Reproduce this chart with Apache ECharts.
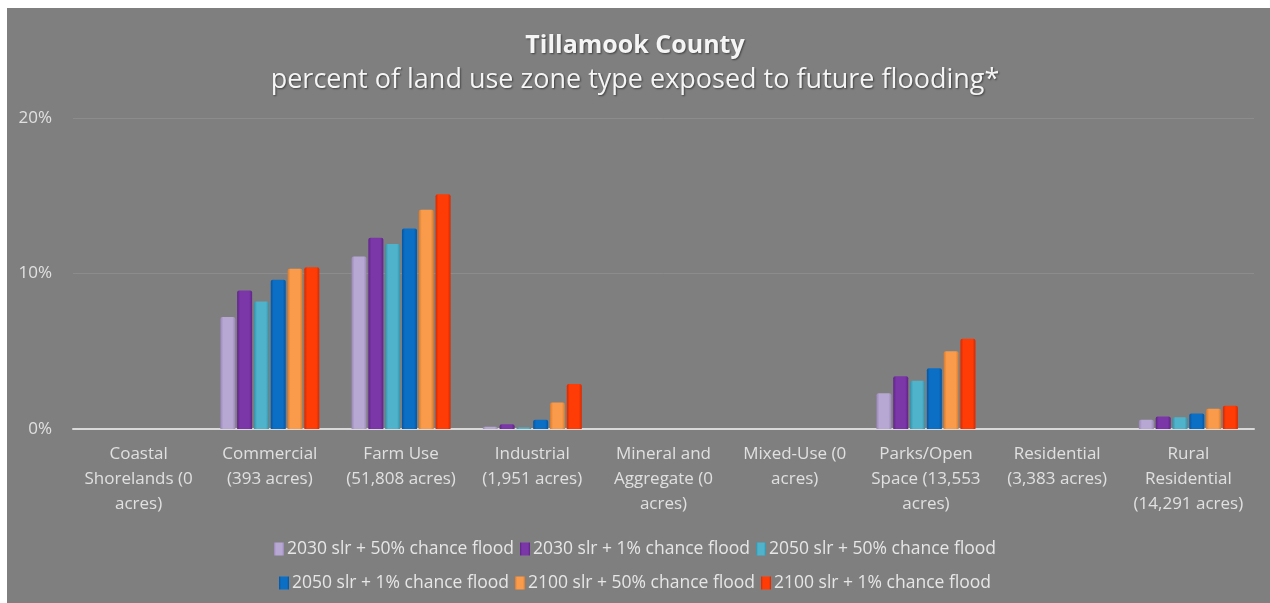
<!DOCTYPE html>
<html>
<head>
<meta charset="utf-8">
<script src="https://cdn.jsdelivr.net/npm/echarts@6/dist/echarts.min.js"></script>
<style>
html,body{margin:0;padding:0;background:#ffffff;}
#chart{width:1270px;height:603px;}
</style>
</head>
<body>
<div id="chart"></div>
<script>
const categories = [
  'Coastal\nShorelands (0\nacres)',
  'Commercial\n(393 acres)',
  'Farm Use\n(51,808 acres)',
  'Industrial\n(1,951 acres)',
  'Mineral and\nAggregate (0\nacres)',
  'Mixed-Use (0\nacres)',
  'Parks/Open\nSpace (13,553\nacres)',
  'Residential\n(3,383 acres)',
  'Rural\nResidential\n(14,291 acres)'
];
const seriesNames = [
  '2030 slr + 50% chance flood',
  '2030 slr + 1% chance flood',
  '2050 slr + 50% chance flood',
  '2050 slr + 1% chance flood',
  '2100 slr + 50% chance flood',
  '2100 slr + 1% chance flood'
];
const s2030_50 = [0, 7.2, 11.1, 0.15, 0, 0, 2.3, 0, 0.6];
const s2030_1  = [0, 8.9, 12.3, 0.3, 0, 0, 3.4, 0, 0.8];
const s2050_50 = [0, 8.2, 11.9, 0.1, 0, 0, 3.1, 0, 0.75];
const s2050_1  = [0, 9.6, 12.9, 0.6, 0, 0, 3.9, 0, 1.0];
const s2100_50 = [0, 10.3, 14.1, 1.7, 0, 0, 5.0, 0, 1.3];
const s2100_1  = [0, 10.4, 15.1, 2.9, 0, 0, 5.8, 0, 1.5];
const yTicks = [0, 10, 20];

const seriesData = [s2030_50, s2030_1, s2050_50, s2050_1, s2100_50, s2100_1];
const colors = ['#b7a7d3', '#7b36a8', '#4fb3cb', '#0b6fc6', '#f99b4a', '#ff3c05'];
const darks  = ['#9a88b8', '#5e2488', '#3590a8', '#0655a0', '#d87a2e', '#d82800'];

const chart = echarts.init(document.getElementById('chart'), null, {renderer: 'canvas'});
const FONT = '"Open Sans", Lato, sans-serif';

const series = seriesData.map((d, i) => ({
  name: seriesNames[i],
  type: 'bar',
  data: d,
  barWidth: 15,
  barGap: '12%',
  itemStyle: {
    color: new echarts.graphic.LinearGradient(0, 0, 1, 0, [
      {offset: 0, color: darks[i]},
      {offset: 0.2, color: colors[i]},
      {offset: 0.8, color: colors[i]},
      {offset: 1, color: darks[i]}
    ]),
    borderRadius: [2, 2, 0, 0]
  }
}));

const legendCommon = {
  icon: 'rect',
  itemWidth: 10,
  itemHeight: 13,
  itemGap: 6,
  textStyle: {color: '#e6e6e6', fontSize: 17.5, fontFamily: FONT, padding: [0, 0, 0, -2]},
  left: 'center'
};

chart.setOption({
  backgroundColor: '#ffffff',
  color: colors,
  animation: false,
  graphic: [{
    type: 'rect',
    z: -10,
    shape: {x: 7, y: 8, width: 1263, height: 595},
    style: {fill: '#7f7f7f'}
  }],
  title: {
    text: 'Tillamook County',
    subtext: 'percent of land use zone type exposed to future flooding*',
    left: 'center',
    top: 28,
    itemGap: 9,
    textStyle: {
      color: '#f5f5f5', fontSize: 25, fontWeight: 'bold', fontFamily: FONT,
      textShadowColor: 'rgba(0,0,0,0.5)', textShadowBlur: 2, textShadowOffsetX: 1, textShadowOffsetY: 1
    },
    subtextStyle: {
      color: '#f5f5f5', fontSize: 27, fontFamily: FONT,
      textShadowColor: 'rgba(0,0,0,0.5)', textShadowBlur: 2, textShadowOffsetX: 1, textShadowOffsetY: 1
    }
  },
  legend: [
    Object.assign({}, legendCommon, {top: 535, data: seriesNames.slice(0, 3)}),
    Object.assign({}, legendCommon, {top: 569, data: seriesNames.slice(3, 6)})
  ],
  grid: {left: 73, right: 16, top: 118, bottom: 174, containLabel: false},
  xAxis: {
    type: 'category',
    data: categories,
    axisLine: {lineStyle: {color: '#d9d9d9', width: 2}},
    axisTick: {show: false},
    axisLabel: {
      color: '#e0e0e0', fontSize: 17, fontFamily: FONT, lineHeight: 25,
      interval: 0, margin: 13
    }
  },
  yAxis: {
    type: 'value',
    min: yTicks[0],
    max: yTicks[yTicks.length - 1],
    interval: 10,
    axisLine: {show: false},
    axisTick: {show: false},
    splitLine: {lineStyle: {color: '#8c8c8c', width: 1}},
    axisLabel: {
      color: '#e0e0e0', fontSize: 17, fontFamily: FONT, margin: 21,
      formatter: v => v + '%'
    }
  },
  series: series
});
</script>
</body>
</html>
